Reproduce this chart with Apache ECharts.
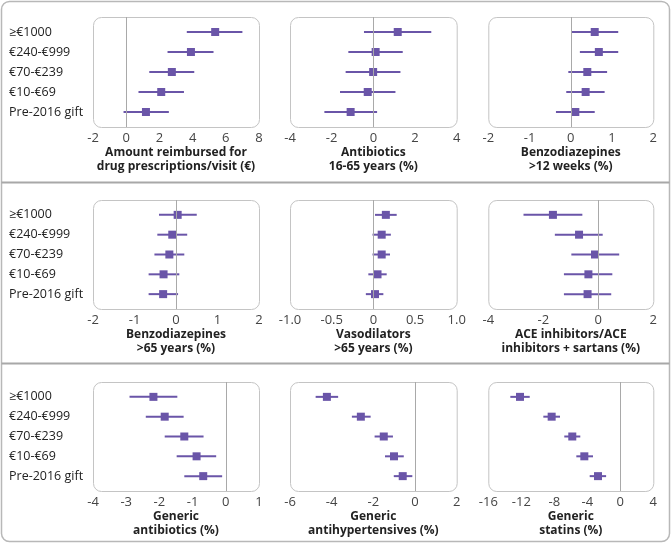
<!DOCTYPE html>
<html>
<head>
<meta charset="utf-8">
<script src="https://cdn.jsdelivr.net/npm/echarts@6/dist/echarts.min.js"></script>
<style>
  html, body { margin: 0; padding: 0; background: #fff; }
  #chart { width: 671px; height: 544px; }
</style>
</head>
<body>
<div id="chart"></div>
<script>
// categories, top to bottom
var categories = ['≥€1000', '€240-€999', '€70-€239', '€10-€69', 'Pre-2016 gift'];

// each panel: estimate, lower CI, upper CI (same order as categories)
var reimbEst = [5.36, 3.90, 2.75, 2.11, 1.19];
var reimbLo  = [3.65, 2.49, 1.39, 0.74, -0.16];
var reimbHi  = [7.00, 5.26, 4.10, 3.48, 2.57];

var antibioEst = [1.17, 0.11, -0.01, -0.27, -1.09];
var antibioLo  = [-0.45, -1.20, -1.33, -1.60, -2.35];
var antibioHi  = [2.78, 1.41, 1.30, 1.06, 0.18];

var benzo12Est = [0.58, 0.68, 0.40, 0.36, 0.11];
var benzo12Lo  = [0.01, 0.22, -0.06, -0.11, -0.36];
var benzo12Hi  = [1.15, 1.15, 0.88, 0.82, 0.58];

var benzo65Est = [0.04, -0.09, -0.16, -0.30, -0.31];
var benzo65Lo  = [-0.41, -0.45, -0.52, -0.66, -0.66];
var benzo65Hi  = [0.50, 0.27, 0.20, 0.08, 0.05];

var vasoEst = [0.15, 0.10, 0.10, 0.05, 0.02];
var vasoLo  = [0.02, -0.01, -0.01, -0.06, -0.09];
var vasoHi  = [0.28, 0.21, 0.20, 0.16, 0.12];

var aceEst = [-1.65, -0.70, -0.12, -0.36, -0.39];
var aceLo  = [-2.72, -1.58, -0.98, -1.25, -1.25];
var aceHi  = [-0.58, 0.16, 0.76, 0.51, 0.47];

var genAbEst = [-2.18, -1.84, -1.25, -0.88, -0.68];
var genAbLo  = [-2.90, -2.41, -1.84, -1.48, -1.25];
var genAbHi  = [-1.46, -1.27, -0.67, -0.29, -0.11];

var genHtEst = [-4.23, -2.60, -1.50, -1.01, -0.59];
var genHtLo  = [-4.77, -3.03, -1.94, -1.44, -1.02];
var genHtHi  = [-3.69, -2.13, -1.06, -0.54, -0.13];

var genStEst = [-12.16, -8.32, -5.82, -4.36, -2.70];
var genStLo  = [-13.33, -9.33, -6.79, -5.33, -3.71];
var genStHi  = [-10.98, -7.31, -4.85, -3.31, -1.72];

// axis settings per panel: min, max, interval, title
var panels = [
  { est: reimbEst, lo: reimbLo, hi: reimbHi, min: -2, max: 8, step: 2, title: 'Amount reimbursed for\ndrug prescriptions/visit (€)' },
  { est: antibioEst, lo: antibioLo, hi: antibioHi, min: -4, max: 4, step: 2, title: 'Antibiotics\n16-65 years (%)' },
  { est: benzo12Est, lo: benzo12Lo, hi: benzo12Hi, min: -2, max: 2, step: 1, title: 'Benzodiazepines\n>12 weeks (%)' },
  { est: benzo65Est, lo: benzo65Lo, hi: benzo65Hi, min: -2, max: 2, step: 1, title: 'Benzodiazepines\n>65 years (%)' },
  { est: vasoEst, lo: vasoLo, hi: vasoHi, min: -1, max: 1, step: 0.5, title: 'Vasodilators\n>65 years (%)', dec: 1 },
  { est: aceEst, lo: aceLo, hi: aceHi, min: -4, max: 2, step: 2, title: 'ACE inhibitors/ACE\ninhibitors + sartans (%)' },
  { est: genAbEst, lo: genAbLo, hi: genAbHi, min: -4, max: 1, step: 1, title: 'Generic\nantibiotics (%)' },
  { est: genHtEst, lo: genHtLo, hi: genHtHi, min: -6, max: 2, step: 2, title: 'Generic\nantihypertensives (%)' },
  { est: genStEst, lo: genStLo, hi: genStHi, min: -16, max: 4, step: 4, title: 'Generic\nstatins (%)' }
];

var colLeft = [93, 290, 488.3];
var colWidth = [166, 166.7, 165];
var rowTop = [17, 200, 382];
var rowHeight = [110, 109, 109];

var purple = '#6a55a8';
var font = 'Open Sans, Lato, sans-serif';

var chart = echarts.init(document.getElementById('chart'));

var grids = [], xAxes = [], yAxes = [], series = [];
var frames = [
  // outer rounded frame and row separators
  { type: 'rect', shape: { x: 1.5, y: 1.5, width: 668, height: 540, r: 8 }, style: { fill: null, stroke: '#b8b8b8', lineWidth: 1.5 }, silent: true },
  { type: 'line', shape: { x1: 1.5, y1: 182.5, x2: 669.5, y2: 182.5 }, style: { stroke: '#a8a8a8', lineWidth: 2 }, silent: true },
  { type: 'line', shape: { x1: 1.5, y1: 363.5, x2: 669.5, y2: 363.5 }, style: { stroke: '#a8a8a8', lineWidth: 2 }, silent: true }
];

panels.forEach(function (p, i) {
  var row = Math.floor(i / 3), col = i % 3;
  var left = colLeft[col], top = rowTop[row], w = colWidth[col], h = rowHeight[row];
  grids.push({ left: left, top: top, width: w, height: h, containLabel: false });
  frames.push({
    type: 'rect',
    shape: { x: left + 0.5, y: top + 0.5, width: w, height: h, r: 8 },
    style: { fill: null, stroke: '#c4c4c4', lineWidth: 1 },
    silent: true, z: -1
  });
  xAxes.push({
    gridIndex: i, type: 'value', min: p.min, max: p.max, interval: p.step,
    axisLine: { show: false }, axisTick: { show: false }, splitLine: { show: false },
    axisLabel: {
      color: '#444', fontSize: 13, fontFamily: font, margin: 5,
      formatter: function (v) { return v === 0 ? '0' : (p.dec ? v.toFixed(p.dec) : String(v)); }
    },
    name: p.title, nameLocation: 'middle', nameGap: 16,
    nameTextStyle: { color: '#222', fontSize: 12, fontWeight: 'bold', fontFamily: font, lineHeight: 13.5, verticalAlign: 'top' }
  });
  yAxes.push({
    gridIndex: i, type: 'value', min: 0.25, max: 5.75, interval: 0.25, inverse: true,
    axisLine: { show: false }, axisTick: { show: false }, splitLine: { show: false },
    axisLabel: {
      show: col === 0, color: '#222', fontSize: 12.5, fontFamily: font, align: 'left', margin: 84,
      formatter: function (v) { return Number.isInteger(v) ? categories[v - 1] : ''; }
    }
  });
  var ciData = p.est.map(function (e, k) { return [p.lo[k], p.hi[k], k + 1]; });
  series.push({
    type: 'custom', xAxisIndex: i, yAxisIndex: i, silent: true,
    renderItem: function (params, api) {
      var a = api.coord([api.value(0), api.value(2)]);
      var b = api.coord([api.value(1), api.value(2)]);
      return { type: 'line', shape: { x1: a[0], y1: a[1], x2: b[0], y2: b[1] }, style: { stroke: purple, lineWidth: 2 } };
    },
    encode: { x: [0, 1], y: 2 },
    data: ciData
  });
  series.push({
    type: 'scatter', xAxisIndex: i, yAxisIndex: i, silent: true,
    symbol: 'rect', symbolSize: 8, itemStyle: { color: purple, opacity: 1 }, z: 3,
    data: p.est.map(function (e, k) { return [e, k + 1]; }),
    markLine: {
      silent: true, symbol: 'none', label: { show: false },
      lineStyle: { color: '#a9a9a9', width: 1, type: 'solid' },
      data: [{ xAxis: 0 }]
    }
  });
});

chart.setOption({
  backgroundColor: '#fff',
  animation: false,
  grid: grids,
  xAxis: xAxes,
  yAxis: yAxes,
  series: series,
  graphic: frames
});
</script>
</body>
</html>
